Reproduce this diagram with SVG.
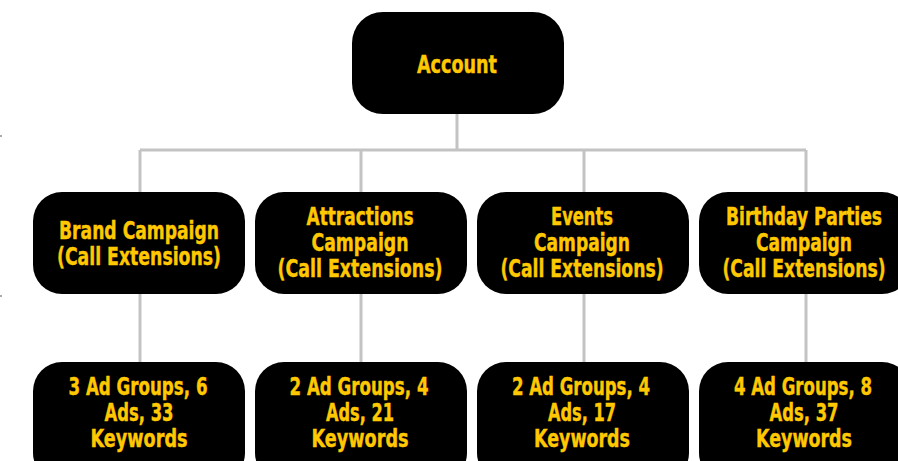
<svg xmlns="http://www.w3.org/2000/svg" width="898" height="461" viewBox="0 0 898 461">
<style>
.box{fill:#000}
.t{font-family:"Liberation Sans Narrow","DejaVu Sans Condensed","Liberation Sans",sans-serif;font-weight:bold;font-size:24px;fill:#ffc800;stroke:#ffc800;stroke-width:0.4;text-anchor:middle}
.c{stroke:#c3c3c3;stroke-width:3;fill:none}
</style>
<rect width="898" height="461" fill="#fff"/>
<rect x="0" y="135" width="2" height="2" fill="#aaa"/>
<rect x="0" y="295" width="2" height="2" fill="#aaa"/>
<g id="connectors">
<path class="c" d="M457 114V150M140 150H806M140 150V192M361 150V192M584 150V192M806 150V192"/>
<path class="c" d="M140 294V362M361 294V362M584 294V362M806 294V362"/>
</g>
<g id="account">
<rect class="box" x="352" y="12" width="212" height="102" rx="31"/>
<text class="t" x="457" y="73" textLength="80" lengthAdjust="spacingAndGlyphs">Account</text>
</g>
<g id="brand">
<rect class="box" x="33" y="192" width="212" height="102" rx="29"/>
<text class="t" x="139" y="239" textLength="160" lengthAdjust="spacingAndGlyphs">Brand Campaign</text>
<text class="t" x="139" y="265" textLength="164" lengthAdjust="spacingAndGlyphs">(Call Extensions)</text>
</g>
<g id="attractions">
<rect class="box" x="255" y="192" width="212" height="102" rx="29"/>
<text class="t" x="360" y="225" textLength="107" lengthAdjust="spacingAndGlyphs">Attractions</text>
<text class="t" x="360" y="251" textLength="97" lengthAdjust="spacingAndGlyphs">Campaign</text>
<text class="t" x="360" y="277" textLength="165" lengthAdjust="spacingAndGlyphs">(Call Extensions)</text>
</g>
<g id="events">
<rect class="box" x="477" y="192" width="212" height="102" rx="29"/>
<text class="t" x="582" y="225" textLength="62" lengthAdjust="spacingAndGlyphs">Events</text>
<text class="t" x="582" y="251" textLength="96" lengthAdjust="spacingAndGlyphs">Campaign</text>
<text class="t" x="582" y="277" textLength="163" lengthAdjust="spacingAndGlyphs">(Call Extensions)</text>
</g>
<g id="birthday">
<rect class="box" x="699" y="192" width="212" height="102" rx="29"/>
<text class="t" x="804" y="225" textLength="156" lengthAdjust="spacingAndGlyphs">Birthday Parties</text>
<text class="t" x="804" y="251" textLength="96" lengthAdjust="spacingAndGlyphs">Campaign</text>
<text class="t" x="804" y="277" textLength="163" lengthAdjust="spacingAndGlyphs">(Call Extensions)</text>
</g>
<g id="brand-groups">
<rect class="box" x="33" y="362" width="212" height="120" rx="29"/>
<text class="t" x="138" y="395" textLength="139" lengthAdjust="spacingAndGlyphs">3 Ad Groups, 6</text>
<text class="t" x="139" y="421" textLength="69" lengthAdjust="spacingAndGlyphs">Ads, 33</text>
<text class="t" x="139" y="447" textLength="97" lengthAdjust="spacingAndGlyphs">Keywords</text>
</g>
<g id="attractions-groups">
<rect class="box" x="255" y="362" width="212" height="120" rx="29"/>
<text class="t" x="359" y="395" textLength="139" lengthAdjust="spacingAndGlyphs">2 Ad Groups, 4</text>
<text class="t" x="360" y="421" textLength="68" lengthAdjust="spacingAndGlyphs">Ads, 21</text>
<text class="t" x="360" y="447" textLength="97" lengthAdjust="spacingAndGlyphs">Keywords</text>
</g>
<g id="events-groups">
<rect class="box" x="477" y="362" width="212" height="120" rx="29"/>
<text class="t" x="581" y="395" textLength="138" lengthAdjust="spacingAndGlyphs">2 Ad Groups, 4</text>
<text class="t" x="582" y="421" textLength="68" lengthAdjust="spacingAndGlyphs">Ads, 17</text>
<text class="t" x="582" y="447" textLength="96" lengthAdjust="spacingAndGlyphs">Keywords</text>
</g>
<g id="birthday-groups">
<rect class="box" x="699" y="362" width="212" height="120" rx="29"/>
<text class="t" x="803" y="395" textLength="138" lengthAdjust="spacingAndGlyphs">4 Ad Groups, 8</text>
<text class="t" x="804" y="421" textLength="69" lengthAdjust="spacingAndGlyphs">Ads, 37</text>
<text class="t" x="804" y="447" textLength="96" lengthAdjust="spacingAndGlyphs">Keywords</text>
</g>
</svg>
